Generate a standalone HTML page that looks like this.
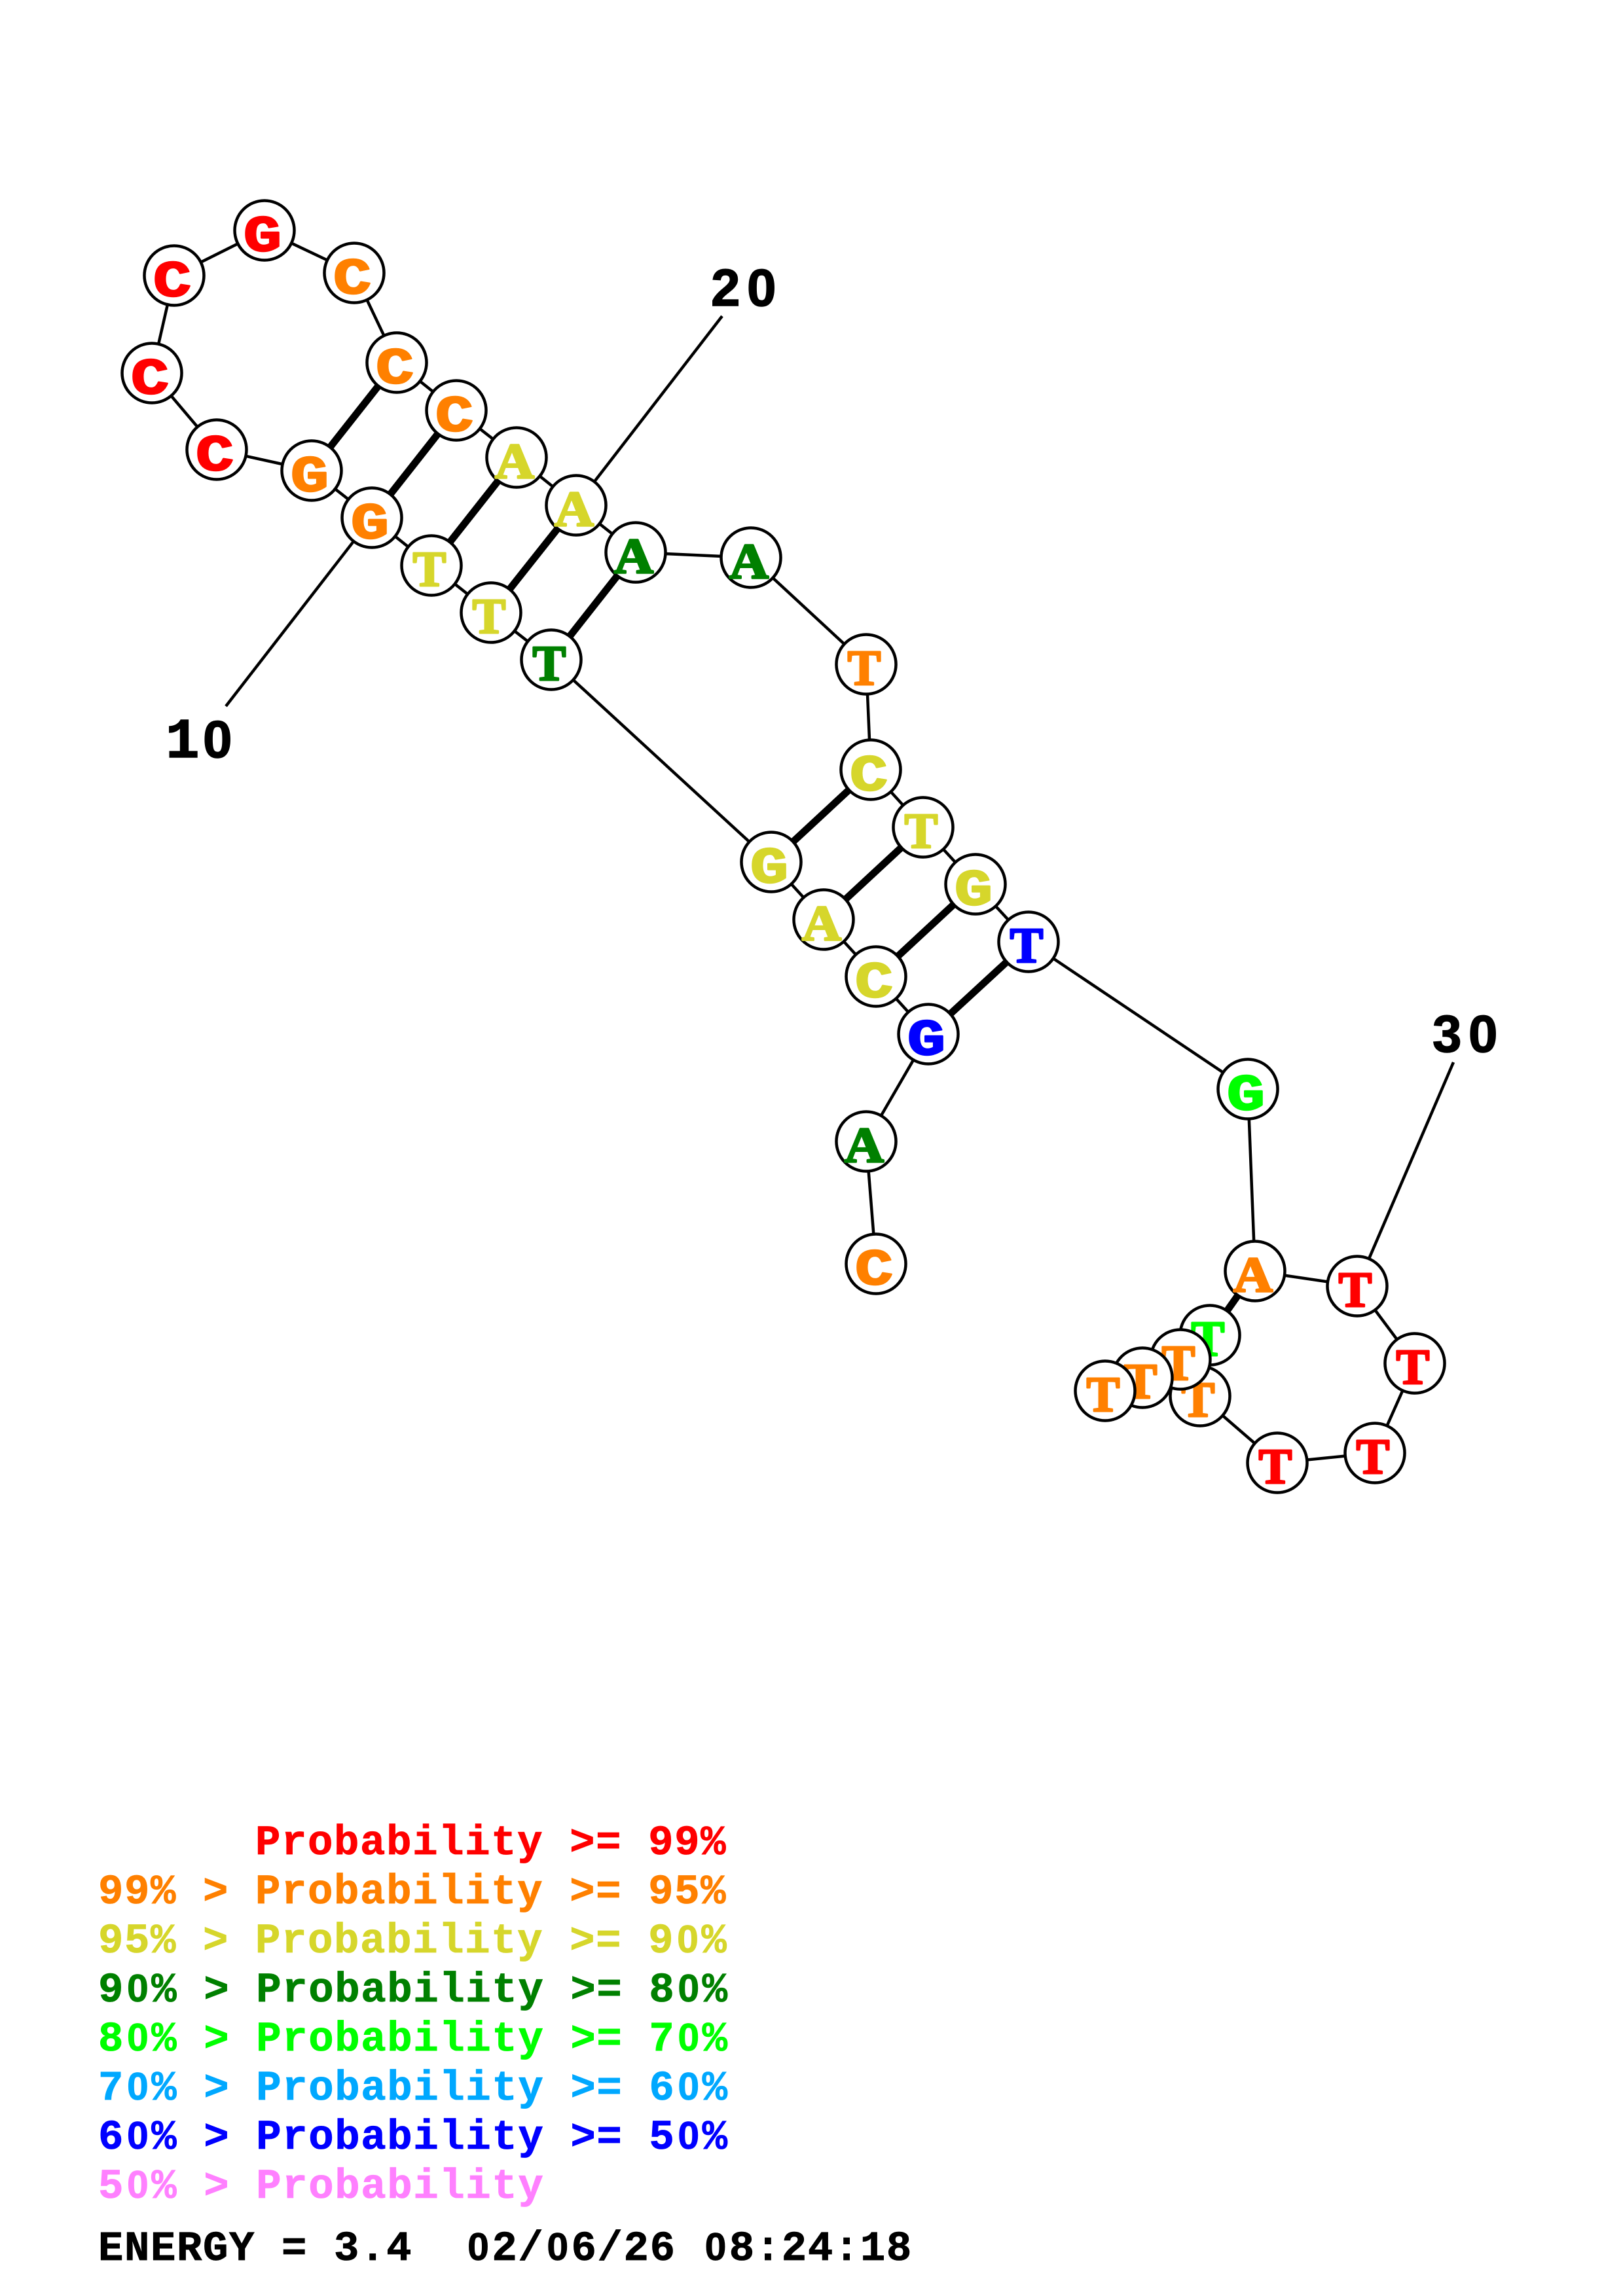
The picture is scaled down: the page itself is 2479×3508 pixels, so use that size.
<!DOCTYPE html>
<html>
<head>
<meta charset="utf-8">
<style>
html,body{margin:0;padding:0;background:#fff}
svg{display:block}
.t{font-family:"Liberation Serif",serif;font-weight:bold;font-size:76px;text-anchor:middle;stroke-width:3px;stroke-linejoin:round}
.m{font-family:"Liberation Mono",monospace;font-weight:bold;font-size:78px;text-anchor:middle;stroke-width:2.5px;stroke-linejoin:round}
.l{font-family:"Liberation Mono",monospace;font-weight:bold;font-size:64px;letter-spacing:1.6px;white-space:pre;stroke-width:.8px}
.z{font-family:"Liberation Sans",sans-serif;font-weight:bold;font-size:59px;letter-spacing:4.4px}
.n{font-family:"Liberation Sans",sans-serif;font-weight:bold;font-size:80px;fill:#000;stroke:#000;stroke-width:1.5px}
.n1{font-family:"Liberation Mono",monospace;font-weight:bold;font-size:86px;fill:#000;stroke:#000;stroke-width:1.5px}
circle{fill:#fff;stroke:#000;stroke-width:4.5}
</style>
</head>
<body>
<svg xmlns="http://www.w3.org/2000/svg" width="2479" height="3508" viewBox="0 0 2479 3508">
<rect width="2479" height="3508" fill="#fff"/>
<polyline fill="none" stroke="#000" stroke-width="4.5" points="1338,1931 1323,1744 1418,1580 1338,1492 1258,1405 1178,1317 842,1008 750,936 659,864 568,791 476,719 331,687 232,570 266,421 404,352 541,417 606,554 697,627 789,699 880,772 971,844 1147,852 1323,1015 1330,1176 1410,1264 1490,1351 1571,1439 1906,1664 1917,1942 2073,1965 2161,2083 2100,2220 1951,2235 1833,2133 1848,2040 1803,2077 1745,2105 1688,2125"/>
<g stroke="#000" stroke-width="4.5">
<line x1="880" y1="772" x2="1103" y2="483"/>
<line x1="568" y1="791" x2="345" y2="1079"/>
<line x1="2073" y1="1965" x2="2220" y2="1623"/>
</g>
<g stroke="#000" stroke-width="11">
<line x1="606" y1="554" x2="476" y2="719"/>
<line x1="697" y1="627" x2="568" y2="791"/>
<line x1="789" y1="699" x2="659" y2="864"/>
<line x1="880" y1="772" x2="750" y2="936"/>
<line x1="971" y1="844" x2="842" y2="1008"/>
<line x1="1330" y1="1176" x2="1178" y2="1317"/>
<line x1="1410" y1="1264" x2="1258" y2="1405"/>
<line x1="1490" y1="1351" x2="1338" y2="1492"/>
<line x1="1571" y1="1439" x2="1418" y2="1580"/>
<line x1="1917" y1="1942" x2="1848" y2="2040"/>
</g>

<circle cx="1338" cy="1931" r="45.5"/><text class="m" x="1335" y="1962" fill="#ff8000" stroke="#ff8000" textLength="58" lengthAdjust="spacingAndGlyphs">C</text>
<circle cx="1323" cy="1744" r="45.5"/><text class="t" x="1320" y="1775" fill="#008000" stroke="#008000" textLength="60" lengthAdjust="spacingAndGlyphs">A</text>
<circle cx="1418" cy="1580" r="45.5"/><text class="m" x="1415" y="1611" fill="#0000ff" stroke="#0000ff" textLength="58" lengthAdjust="spacingAndGlyphs">G</text>
<circle cx="1338" cy="1492" r="45.5"/><text class="m" x="1335" y="1523" fill="#d6d62b" stroke="#d6d62b" textLength="58" lengthAdjust="spacingAndGlyphs">C</text>
<circle cx="1258" cy="1405" r="45.5"/><text class="t" x="1255" y="1436" fill="#d6d62b" stroke="#d6d62b" textLength="60" lengthAdjust="spacingAndGlyphs">A</text>
<circle cx="1178" cy="1317" r="45.5"/><text class="m" x="1175" y="1348" fill="#d6d62b" stroke="#d6d62b" textLength="58" lengthAdjust="spacingAndGlyphs">G</text>
<circle cx="842" cy="1008" r="45.5"/><text class="t" x="839" y="1039" fill="#008000" stroke="#008000">T</text>
<circle cx="750" cy="936" r="45.5"/><text class="t" x="747" y="967" fill="#d6d62b" stroke="#d6d62b">T</text>
<circle cx="659" cy="864" r="45.5"/><text class="t" x="656" y="895" fill="#d6d62b" stroke="#d6d62b">T</text>
<circle cx="476" cy="719" r="45.5"/><text class="m" x="473" y="750" fill="#ff8000" stroke="#ff8000" textLength="58" lengthAdjust="spacingAndGlyphs">G</text>
<circle cx="568" cy="791" r="45.5"/><text class="m" x="565" y="822" fill="#ff8000" stroke="#ff8000" textLength="58" lengthAdjust="spacingAndGlyphs">G</text>
<circle cx="331" cy="687" r="45.5"/><text class="m" x="328" y="718" fill="#ff0000" stroke="#ff0000" textLength="58" lengthAdjust="spacingAndGlyphs">C</text>
<circle cx="232" cy="570" r="45.5"/><text class="m" x="229" y="601" fill="#ff0000" stroke="#ff0000" textLength="58" lengthAdjust="spacingAndGlyphs">C</text>
<circle cx="266" cy="421" r="45.5"/><text class="m" x="263" y="452" fill="#ff0000" stroke="#ff0000" textLength="58" lengthAdjust="spacingAndGlyphs">C</text>
<circle cx="404" cy="352" r="45.5"/><text class="m" x="401" y="383" fill="#ff0000" stroke="#ff0000" textLength="58" lengthAdjust="spacingAndGlyphs">G</text>
<circle cx="541" cy="417" r="45.5"/><text class="m" x="538" y="448" fill="#ff8000" stroke="#ff8000" textLength="58" lengthAdjust="spacingAndGlyphs">C</text>
<circle cx="606" cy="554" r="45.5"/><text class="m" x="603" y="585" fill="#ff8000" stroke="#ff8000" textLength="58" lengthAdjust="spacingAndGlyphs">C</text>
<circle cx="697" cy="627" r="45.5"/><text class="m" x="694" y="658" fill="#ff8000" stroke="#ff8000" textLength="58" lengthAdjust="spacingAndGlyphs">C</text>
<circle cx="789" cy="699" r="45.5"/><text class="t" x="786" y="730" fill="#d6d62b" stroke="#d6d62b" textLength="60" lengthAdjust="spacingAndGlyphs">A</text>
<circle cx="880" cy="772" r="45.5"/><text class="t" x="877" y="803" fill="#d6d62b" stroke="#d6d62b" textLength="60" lengthAdjust="spacingAndGlyphs">A</text>
<circle cx="971" cy="844" r="45.5"/><text class="t" x="968" y="875" fill="#008000" stroke="#008000" textLength="60" lengthAdjust="spacingAndGlyphs">A</text>
<circle cx="1147" cy="852" r="45.5"/><text class="t" x="1144" y="883" fill="#008000" stroke="#008000" textLength="60" lengthAdjust="spacingAndGlyphs">A</text>
<circle cx="1323" cy="1015" r="45.5"/><text class="t" x="1320" y="1046" fill="#ff8000" stroke="#ff8000">T</text>
<circle cx="1330" cy="1176" r="45.5"/><text class="m" x="1327" y="1207" fill="#d6d62b" stroke="#d6d62b" textLength="58" lengthAdjust="spacingAndGlyphs">C</text>
<circle cx="1410" cy="1264" r="45.5"/><text class="t" x="1407" y="1295" fill="#d6d62b" stroke="#d6d62b">T</text>
<circle cx="1490" cy="1351" r="45.5"/><text class="m" x="1487" y="1382" fill="#d6d62b" stroke="#d6d62b" textLength="58" lengthAdjust="spacingAndGlyphs">G</text>
<circle cx="1571" cy="1439" r="45.5"/><text class="t" x="1568" y="1470" fill="#0000ff" stroke="#0000ff">T</text>
<circle cx="1906" cy="1664" r="45.5"/><text class="m" x="1903" y="1695" fill="#00ff00" stroke="#00ff00" textLength="58" lengthAdjust="spacingAndGlyphs">G</text>
<circle cx="1917" cy="1942" r="45.5"/><text class="t" x="1914" y="1973" fill="#ff8000" stroke="#ff8000" textLength="60" lengthAdjust="spacingAndGlyphs">A</text>
<circle cx="2073" cy="1965" r="45.5"/><text class="t" x="2070" y="1996" fill="#ff0000" stroke="#ff0000">T</text>
<circle cx="2161" cy="2083" r="45.5"/><text class="t" x="2158" y="2114" fill="#ff0000" stroke="#ff0000">T</text>
<circle cx="2100" cy="2220" r="45.5"/><text class="t" x="2097" y="2251" fill="#ff0000" stroke="#ff0000">T</text>
<circle cx="1951" cy="2235" r="45.5"/><text class="t" x="1948" y="2266" fill="#ff0000" stroke="#ff0000">T</text>
<circle cx="1833" cy="2133" r="45.5"/><text class="t" x="1830" y="2164" fill="#ff8000" stroke="#ff8000">T</text>
<circle cx="1848" cy="2040" r="45.5"/><text class="t" x="1845" y="2071" fill="#00ff00" stroke="#00ff00">T</text>
<circle cx="1803" cy="2077" r="45.5"/><text class="t" x="1800" y="2108" fill="#ff8000" stroke="#ff8000">T</text>
<circle cx="1745" cy="2105" r="45.5"/><text class="t" x="1742" y="2136" fill="#ff8000" stroke="#ff8000">T</text>
<circle cx="1688" cy="2125" r="45.5"/><text class="t" x="1685" y="2156" fill="#ff8000" stroke="#ff8000">T</text>

<text class="n" y="467"><tspan x="1086">2</tspan><tspan x="1141">0</tspan></text>
<text y="1157"><tspan class="n1" x="253">1</tspan><tspan class="n" x="310">0</tspan></text>
<text class="n" y="1607"><tspan x="2188">3</tspan><tspan x="2243">0</tspan></text>

<text class="l" x="150" y="2833" fill="#ff0000" stroke="#ff0000" xml:space="preserve">      Probability &gt;= 99%</text>
<text class="l" x="150" y="2908" fill="#ff8000" stroke="#ff8000" xml:space="preserve">99% &gt; Probability &gt;= 95%</text>
<text class="l" x="150" y="2983" fill="#d6d62b" stroke="#d6d62b" xml:space="preserve">95% &gt; Probability &gt;= 9<tspan class="z" dx="4">0</tspan>%</text>
<text class="l" x="150" y="3058" fill="#008000" stroke="#008000" xml:space="preserve">9<tspan class="z" dx="4">0</tspan>% &gt; Probability &gt;= 8<tspan class="z" dx="4">0</tspan>%</text>
<text class="l" x="150" y="3133" fill="#00ff00" stroke="#00ff00" xml:space="preserve">8<tspan class="z" dx="4">0</tspan>% &gt; Probability &gt;= 7<tspan class="z" dx="4">0</tspan>%</text>
<text class="l" x="150" y="3208" fill="#00a8ff" stroke="#00a8ff" xml:space="preserve">7<tspan class="z" dx="4">0</tspan>% &gt; Probability &gt;= 6<tspan class="z" dx="4">0</tspan>%</text>
<text class="l" x="150" y="3283" fill="#0000ff" stroke="#0000ff" xml:space="preserve">6<tspan class="z" dx="4">0</tspan>% &gt; Probability &gt;= 5<tspan class="z" dx="4">0</tspan>%</text>
<text class="l" x="150" y="3358" fill="#ff80ff" stroke="#ff80ff" xml:space="preserve">5<tspan class="z" dx="4">0</tspan>% &gt; Probability</text>
<text class="l" x="150" y="3453" fill="#000" stroke="#000" xml:space="preserve">ENERGY = 3.4  <tspan class="z" dx="4">0</tspan>2/<tspan class="z" dx="4">0</tspan>6/26 <tspan class="z" dx="4">0</tspan>8:24:18</text>
</svg>
</body>
</html>
